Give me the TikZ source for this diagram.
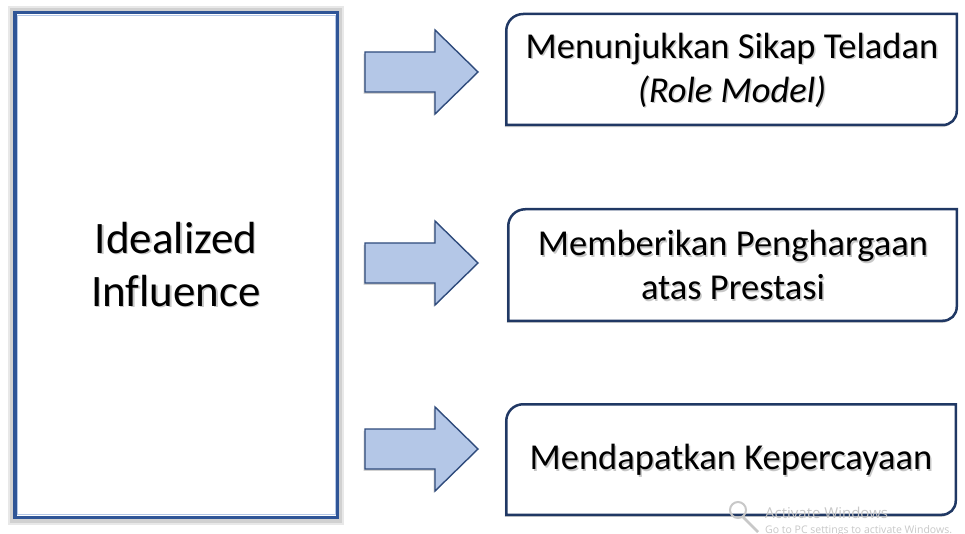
\documentclass[tikz,border=0pt]{standalone}
\usepackage{fontspec}
\setmainfont{Carlito}[Ligatures=NoCommon]
\newfontfamily\wmfont{Open Sans}
\definecolor{leftblue}{HTML}{2F5597}
\definecolor{navy}{HTML}{203864}
\definecolor{arrfill}{HTML}{B4C7E7}
\definecolor{arrline}{HTML}{2F4B7C}
\definecolor{wm}{HTML}{C8C8C8}
\newcommand\shd[1]{\leavevmode\rlap{\kern1.4pt\raisebox{-1.6pt}{\textcolor{black!22}{#1}}}#1}
\tikzset{
  mainbox/.style={draw=leftblue, line width=3.5pt, fill=white, inner sep=0pt,
    minimum width=322.5pt, minimum height=504.5pt, align=center,
    font=\fontsize{45}{54}\selectfont},
  rbox/.style={draw=navy, line width=2.5pt, fill=white},
  rshadow/.style={fill=black!20},
  rtext/.style={align=center, inner sep=0pt, font=\fontsize{36.5}{44}\selectfont},
  blockarrow/.style={draw=arrline, line width=1.4pt, fill=arrfill, line join=miter},
  arrshadow/.style={fill=black!18},
}
\newcommand\boxpath[4]{% x1 y1 x2 y2 (top-left and bottom-right rounded)
  (#1,#4) -- (#1,#2+17) .. controls (#1,#2+7.5) and (#1+7.5,#2) .. (#1+17,#2)
  -- (#3,#2) -- (#3,#4-14) .. controls (#3,#4-6) and (#3-6,#4) .. (#3-14,#4) -- cycle}
\newcommand\arrpath[1]{%
  (365,#1-20) -- (435,#1-20) -- (435,#1-42) -- (478,#1) -- (435,#1+42) -- (435,#1+20) -- (365,#1+20) -- cycle}
\begin{document}
\begin{tikzpicture}[x=1pt,y=-1pt]
\useasboundingbox (0,0) rectangle (965,534);
\fill[white] (0,0) rectangle (965,534);
% left box with soft shadow
\fill[black!9] (8,6) rectangle (344,525);
\fill[black!18] (10,8) rectangle (342,523);
\node[mainbox] (main) at (176,265) {\shd{Idealized}\\[-1pt]\shd{Influence}};
\draw[arrfill, line width=0.8pt] (17,15.5) rectangle (335,514.5);
% arrows
\foreach \cy in {72,263,449} {
  \fill[arrshadow] [shift={(-1.5,1.8)}] \arrpath{\cy};
  \draw[blockarrow] \arrpath{\cy};
}
% right boxes
\fill[rshadow] [shift={(-1.5,2.2)}] \boxpath{506.25}{14}{956.75}{125};
\draw[rbox] \boxpath{506.25}{14}{956.75}{125};
\fill[rshadow] [shift={(-1.5,2.2)}] \boxpath{508.25}{209.25}{956.75}{320.75};
\draw[rbox] \boxpath{508.25}{209.25}{956.75}{320.75};
\fill[rshadow] [shift={(-1.5,2.2)}] \boxpath{506.25}{404.25}{955.75}{514.75};
\draw[rbox] \boxpath{506.25}{404.25}{955.75}{514.75};
\node[rtext] (t1) at (732,71) {\shd{Menunjukkan Sikap Teladan}\\\shd{\itshape (Role Model)}};
\node[rtext] (t2) at (733,266) {\shd{Memberikan Penghargaan}\\\shd{atas Prestasi}};
\node[rtext] (t3) at (731,461) {\shd{Mendapatkan Kepercayaan}};
% watermark
\draw[wm, line width=2pt] (738,510) circle (8);
\draw[wm, line width=2.5pt] (743,517) -- (758,532);
\node[wm, anchor=base west, inner sep=0pt, font=\wmfont\fontsize{15}{15}\selectfont] (wm1) at (765,518) {Activate Windows};
\node[wm, anchor=base west, inner sep=0pt, font=\wmfont\fontsize{10.5}{11}\selectfont] (wm2) at (765,533) {Go to PC settings to activate Windows.};
\end{tikzpicture}
\end{document}
